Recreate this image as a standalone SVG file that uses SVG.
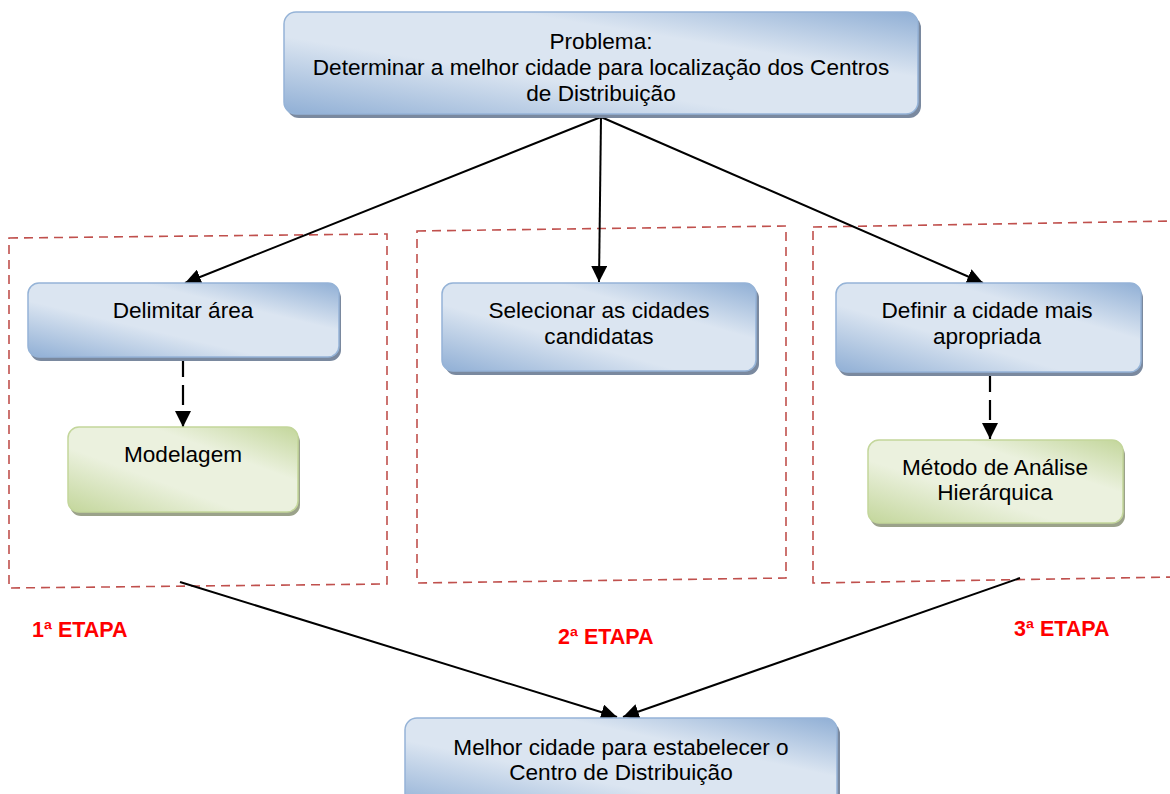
<svg xmlns="http://www.w3.org/2000/svg" width="1170" height="794" viewBox="0 0 1170 794">
  <style>
    .lbl { font-family: "Liberation Sans", Arial, sans-serif; font-size: 22.6px; fill: #000; text-anchor: middle; }
    .etapa { font-family: "Liberation Sans", Arial, sans-serif; font-size: 21.5px; font-weight: bold; fill: #ff0000; }
    .blue { fill: url(#gBlue); stroke: #95b3d7; stroke-width: 1.5; }
    .green { fill: url(#gGreen); stroke: #c3d69b; stroke-width: 1.5; }
    .shBlue { fill: #7a899f; }
    .shGreen { fill: #9ba28a; }
    .frame { fill: none; stroke: #c0504d; stroke-width: 1.6; stroke-dasharray: 9 6; }
    .link { fill: none; stroke: #000; stroke-width: 2; }
    .dash { stroke-dasharray: 20 8; stroke-width: 2.2; }
  </style>
  <defs>
    <linearGradient id="gBlue" x1="0" y1="1" x2="1" y2="0">
      <stop offset="0" stop-color="#90afd5"/>
      <stop offset="0.38" stop-color="#dbe5f1"/>
      <stop offset="0.68" stop-color="#dbe5f1"/>
      <stop offset="1" stop-color="#90afd5"/>
    </linearGradient>
    <linearGradient id="gGreen" x1="0" y1="1" x2="1" y2="0">
      <stop offset="0" stop-color="#c3d69b"/>
      <stop offset="0.38" stop-color="#ebf1de"/>
      <stop offset="0.68" stop-color="#ebf1de"/>
      <stop offset="1" stop-color="#c3d69b"/>
    </linearGradient>
    <marker id="arrow" markerUnits="userSpaceOnUse" markerWidth="16" markerHeight="16" viewBox="0 0 16 16" refX="16" refY="8" orient="auto">
      <path d="M0,0 L16,8 L0,16 Z" fill="#000"/>
    </marker>
  </defs>

  <!-- stage frames -->
  <g id="frames">
    <polygon class="frame" points="9,238 387,234 387,584 9,588"/>
    <polygon class="frame" points="417,231 786,226 786,578 417,583"/>
    <polygon class="frame" points="813,227 1176,221 1176,577 813,583"/>
  </g>

  <!-- connectors -->
  <g id="connectors">
    <line class="link" x1="601" y1="117" x2="185" y2="283" marker-end="url(#arrow)"/>
    <line class="link" x1="601" y1="117" x2="599" y2="282" marker-end="url(#arrow)"/>
    <line class="link" x1="601" y1="117" x2="983" y2="283" marker-end="url(#arrow)"/>
    <line class="link dash" x1="183" y1="357" x2="183" y2="427" marker-end="url(#arrow)"/>
    <line class="link dash" x1="990" y1="372" x2="990" y2="439" marker-end="url(#arrow)"/>
    <line class="link" x1="180" y1="582" x2="617" y2="717" marker-end="url(#arrow)"/>
    <line class="link" x1="1020" y1="578" x2="623" y2="717" marker-end="url(#arrow)"/>
  </g>

  <g id="problema">
    <rect class="shBlue" x="287" y="16" width="634" height="102" rx="12"/>
    <rect class="blue" x="284" y="12" width="634" height="102" rx="12"/>
    <text class="lbl" x="601" y="49">Problema:</text>
    <text class="lbl" x="601" y="75">Determinar a melhor cidade para localização dos Centros</text>
    <text class="lbl" x="601" y="101">de Distribuição</text>
  </g>

  <g id="delimitar">
    <rect class="shBlue" x="30" y="287" width="311" height="74" rx="11"/>
    <rect class="blue" x="28" y="283" width="311" height="74" rx="11"/>
    <text class="lbl" x="183" y="318">Delimitar área</text>
  </g>

  <g id="selecionar">
    <rect class="shBlue" x="445" y="287" width="314" height="88" rx="11"/>
    <rect class="blue" x="442" y="283" width="314" height="88" rx="11"/>
    <text class="lbl" x="599" y="318">Selecionar as cidades</text>
    <text class="lbl" x="599" y="344">candidatas</text>
  </g>

  <g id="definir">
    <rect class="shBlue" x="838" y="287" width="305" height="89" rx="11"/>
    <rect class="blue" x="836" y="283" width="305" height="89" rx="11"/>
    <text class="lbl" x="987" y="318">Definir a cidade mais</text>
    <text class="lbl" x="987" y="344">apropriada</text>
  </g>

  <g id="modelagem">
    <rect class="shGreen" x="70" y="431" width="230" height="85" rx="11"/>
    <rect class="green" x="68" y="427" width="230" height="85" rx="11"/>
    <text class="lbl" x="183" y="462">Modelagem</text>
  </g>

  <g id="ahp">
    <rect class="shGreen" x="870" y="444" width="255" height="83" rx="11"/>
    <rect class="green" x="868" y="440" width="255" height="83" rx="11"/>
    <text class="lbl" x="995" y="475">Método de Análise</text>
    <text class="lbl" x="995" y="500">Hierárquica</text>
  </g>

  <g id="resultado">
    <rect class="shBlue" x="408" y="722" width="432" height="92" rx="12"/>
    <rect class="blue" x="405" y="718" width="432" height="92" rx="12"/>
    <text class="lbl" x="621" y="755">Melhor cidade para estabelecer o</text>
    <text class="lbl" x="621" y="780">Centro de Distribuição</text>
  </g>

  <g id="labels">
    <text class="etapa" x="32" y="637">1ª ETAPA</text>
    <text class="etapa" x="558" y="644">2ª ETAPA</text>
    <text class="etapa" x="1014" y="636">3ª ETAPA</text>
  </g>
</svg>
